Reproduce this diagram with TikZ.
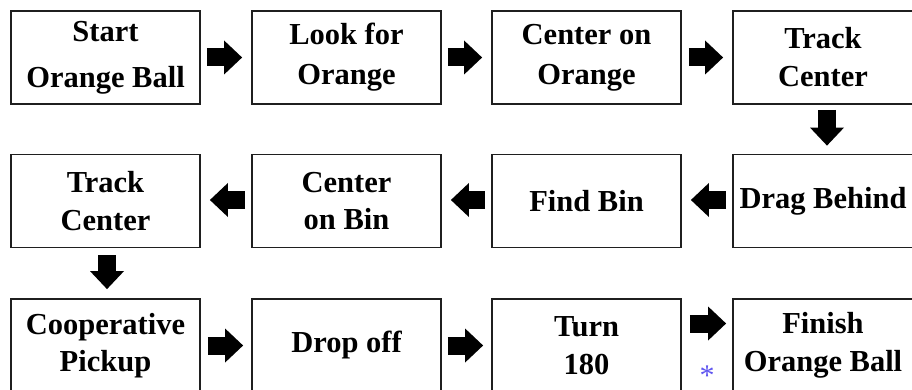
\documentclass[tikz,border=0pt]{standalone}
\usepackage{fontspec}
\setmainfont{Liberation Serif}
\usetikzlibrary{arrows.meta,calc}
\definecolor{starblue}{RGB}{95,85,240}
\begin{document}
\begin{tikzpicture}[x=1pt,y=-1pt,
  box/.style={draw=black!88, line width=1.8pt, minimum width=189pt, minimum height=93pt,
    inner sep=0pt, align=center, font=\fontsize{30.5}{38}\selectfont\bfseries},
  lastbox/.style={box, minimum width=180pt},
  blk/.style={line width=18pt, -{Triangle[length=18pt,width=34pt,line width=0pt]}},
]
\clip (0,0) rectangle (912,390);
\fill[white] (0,0) rectangle (912,390);
% row 1
\node[box] (s1) at (105.5,57.5) {Start\\[8pt]Orange Ball};
\node[box] (s2) at (346.5,57.5) {Look for\\[2pt]Orange};
\node[box] (s3) at (586.5,57.5) {Center on\\[2pt]Orange};
\node[lastbox] (s4) at (823,57.5) {Track\\Center};
% row 2
\node[box] (m1) at (105.5,201) {Track\\Center};
\node[box] (m2) at (346.5,201) {Center\\[-1pt]on Bin};
\node[box] (m3) at (586.5,201) {Find Bin};
\node[lastbox] (m4) at (823,201) {Drag Behind};
% row 3
\node[box] (b1) at (105.5,345.5) {Cooperative\\[-1.5pt]Pickup};
\node[box] (b2) at (346.5,345.5) {Drop off};
\node[box] (b3) at (586.5,345.5) {Turn\\180};
\node[lastbox] (b4) at (823,345.5) {Finish\\Orange Ball};
% row 1 arrows
\draw[blk] ($(s1.east)+(6,0)$) -- ($(s2.west)+(-9,0)$);
\draw[blk] ($(s2.east)+(6,0)$) -- ($(s3.west)+(-9,0)$);
\draw[blk] ($(s3.east)+(7,0)$) -- ($(s4.west)+(-9,0)$);
% down
\draw[blk] ($(s4.south)+(4,5)$) -- ($(m4.north)+(4,-8)$);
% row 2 arrows (leftwards)
\draw[blk] ($(m4.west)+(-6,-1)$) -- ($(m3.east)+(9,-1)$);
\draw[blk] ($(m3.west)+(-6,-1)$) -- ($(m2.east)+(9,-1)$);
\draw[blk] ($(m2.west)+(-6,-1)$) -- ($(m1.east)+(9,-1)$);
% down
\draw[blk] ($(m1.south)+(1.5,7)$) -- ($(b1.north)+(1.5,-9)$);
% row 3 arrows
\draw[blk] ($(b1.east)+(7,0)$) -- ($(b2.west)+(-8,0)$);
\draw[blk] ($(b2.east)+(6,0)$) -- ($(b3.west)+(-8,0)$);
\draw[blk] ($(b3.east)+(8,-22)$) -- ($(b4.west)+(-6,-22)$);
\node[text=starblue, font=\fontsize{30}{30}\selectfont, anchor=base, inner sep=0pt] (star) at (707,385) {*};
\end{tikzpicture}
\end{document}
